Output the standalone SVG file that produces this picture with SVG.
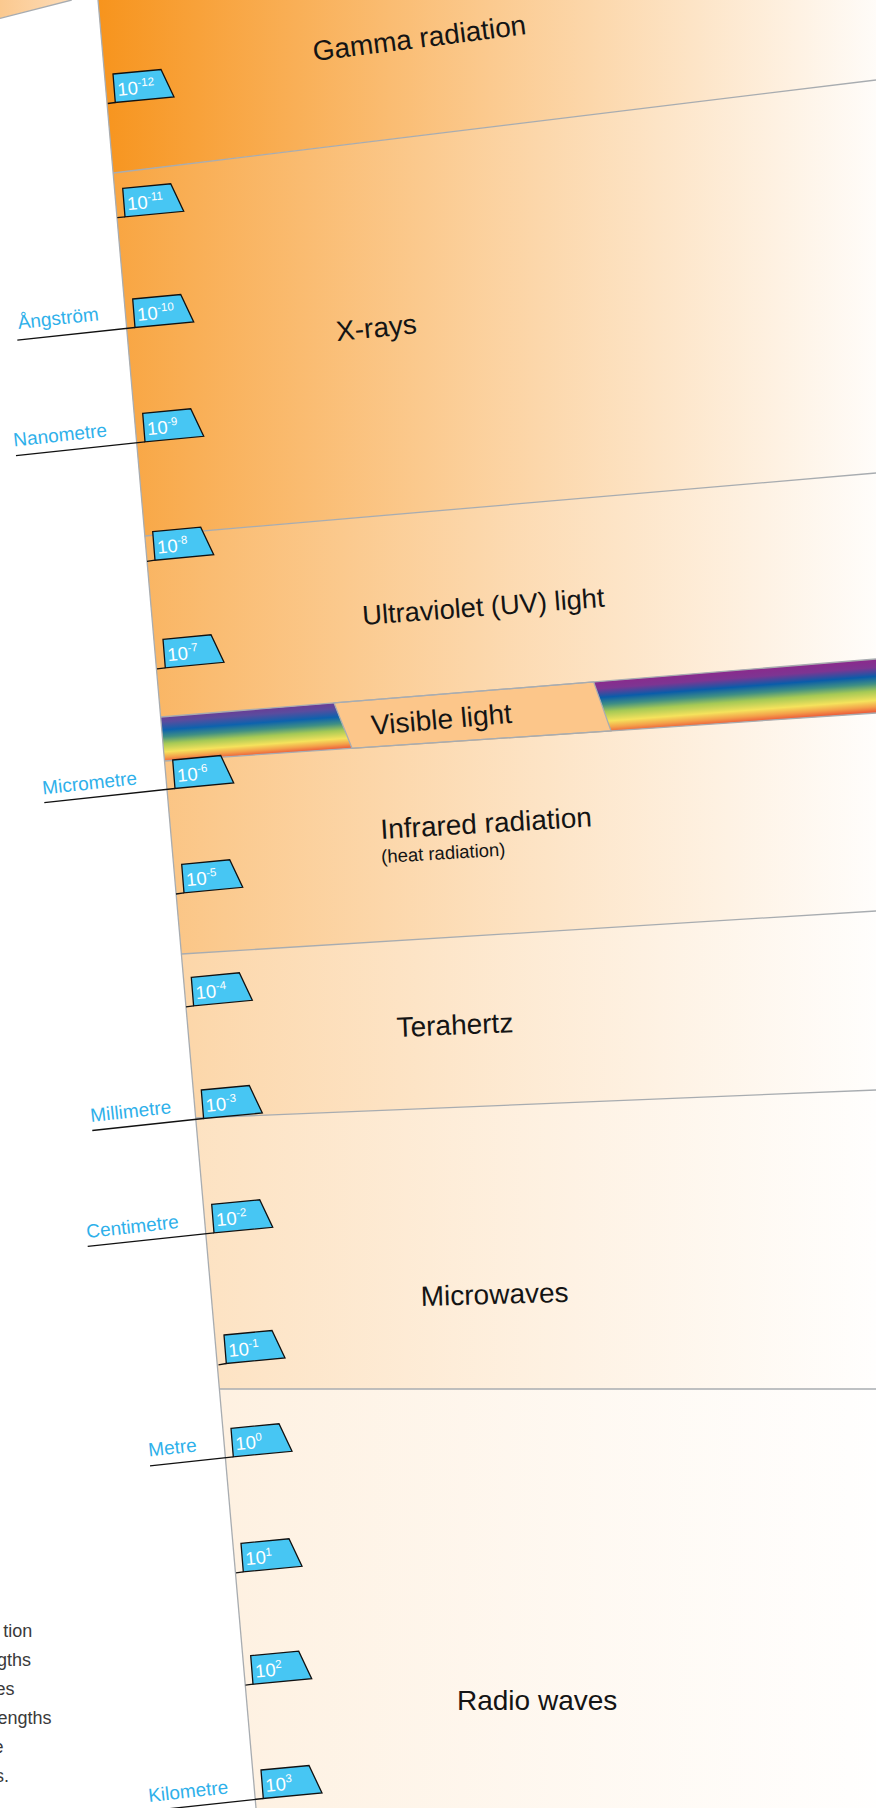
<svg xmlns="http://www.w3.org/2000/svg" width="876" height="1808" viewBox="0 0 876 1808">
<defs>
<linearGradient id="fade" x1="0" y1="0" x2="1" y2="0">
<stop offset="0" stop-color="#f7941d" stop-opacity="1"/>
<stop offset="0.5" stop-color="#f7941d" stop-opacity="0.5"/>
<stop offset="1" stop-color="#f7941d" stop-opacity="0.03"/>
</linearGradient>
<linearGradient id="sliver" x1="0" y1="0" x2="1" y2="0">
<stop offset="0" stop-color="#fbc98f"/>
<stop offset="1" stop-color="#fddcb8"/>
</linearGradient>
<linearGradient id="rainL" gradientUnits="userSpaceOnUse" x1="255" y1="709.4" x2="258.4" y2="754.9">
<stop offset="0" stop-color="#6b3d96"/>
<stop offset="0.12" stop-color="#5a4c9e"/>
<stop offset="0.3" stop-color="#0d62ad"/>
<stop offset="0.45" stop-color="#3f8f84"/>
<stop offset="0.6" stop-color="#a5c955"/>
<stop offset="0.78" stop-color="#f5e25c"/>
<stop offset="0.9" stop-color="#f4a04a"/>
<stop offset="1" stop-color="#ec5b3a"/>
</linearGradient>
<linearGradient id="rainR" gradientUnits="userSpaceOnUse" x1="735" y1="670.4" x2="739" y2="722.5">
<stop offset="0" stop-color="#8b2a8c"/>
<stop offset="0.15" stop-color="#7d3592"/>
<stop offset="0.32" stop-color="#0a5ca9"/>
<stop offset="0.46" stop-color="#3f8f84"/>
<stop offset="0.6" stop-color="#a5c955"/>
<stop offset="0.78" stop-color="#f5e25c"/>
<stop offset="0.9" stop-color="#f4a04a"/>
<stop offset="1" stop-color="#ec5b3a"/>
</linearGradient>
</defs>
<style>
.band{fill:url(#fade)}
.bnd{stroke:#a8acb0;stroke-width:1.3;fill:none}
.tag path{fill:#47c6f3;stroke:#111;stroke-width:1.3;stroke-linejoin:miter}
.tag text{font-family:"Liberation Sans",Arial,sans-serif;font-size:18.5px;fill:#fff}
.tag tspan{font-size:11.5px}
.tick{stroke:#111;stroke-width:1.3;fill:none}
.lbl{font-family:"Liberation Sans",Arial,sans-serif;font-size:28px;fill:#141414}
.sub{font-family:"Liberation Sans",Arial,sans-serif;font-size:18.5px;fill:#141414}
.unit{font-family:"Liberation Sans",Arial,sans-serif;font-size:19px;fill:#2eb0ea}
.para{font-family:"Liberation Sans",Arial,sans-serif;font-size:18px;fill:#3a3a3a;text-anchor:end}
</style>
<rect x="0" y="0" width="876" height="1808" fill="#ffffff"/>
<g id="prev-panel">
<polygon points="0,0 71.7,0 0,18.3" fill="url(#sliver)"/>
<line x1="0" y1="18.3" x2="71.7" y2="0" class="bnd"/>
</g>
<g id="band-gamma"><polygon class="band" points="98,0 876,0 876,80 113.1,173"/>
<text class="lbl" transform="translate(314,61) rotate(-7.2)">Gamma radiation</text></g>
<g id="band-xray"><polygon class="band" fill-opacity="0.84" points="113.1,173 876,80 876,473 144.8,536"/>
<text class="lbl" transform="translate(337,341) rotate(-5.5)">X-rays</text></g>
<g id="band-uv"><polygon class="band" fill-opacity="0.69" points="144.8,536 876,473 876,659 160.7,717"/>
<text class="lbl" style="font-size:27.3px" transform="translate(363,625) rotate(-4.3)">Ultraviolet (UV) light</text></g>
<g id="band-visible">
<polygon points="160.7,717 334,702.9 352,748.3 164.5,761" fill="url(#rainL)"/>
<polygon points="593.6,681.9 876,659 876,713 611,730.9" fill="url(#rainR)"/>
<polygon points="334,702.9 593.6,681.9 611,730.9 352,748.3" fill="#fcc68a" stroke="#a8acb0" stroke-width="1.3"/>
<text class="lbl" transform="translate(372,735) rotate(-5)">Visible light</text></g>
<g id="band-ir"><polygon class="band" fill-opacity="0.54" points="164.5,761 876,713 876,911 181.4,954"/>
<text class="lbl" transform="translate(381,839) rotate(-3.4)">Infrared radiation</text>
<text class="sub" transform="translate(381.5,863) rotate(-3.4)">(heat radiation)</text></g>
<g id="band-thz"><polygon class="band" fill-opacity="0.38" points="181.4,954 876,911 876,1090 195.7,1118"/>
<text class="lbl" transform="translate(397,1037) rotate(-2.4)">Terahertz</text></g>
<g id="band-micro"><polygon class="band" fill-opacity="0.27" points="195.7,1118 876,1090 876,1389 219.4,1389"/>
<text class="lbl" transform="translate(421,1306) rotate(-1.6)">Microwaves</text></g>
<g id="band-radio"><polygon class="band" fill-opacity="0.135" points="219.4,1389 876,1389 876,1808 256,1808"/>
<text class="lbl" x="457" y="1710">Radio waves</text></g>
<g id="boundaries">
<line class="bnd" x1="98" y1="0" x2="256" y2="1808"/>
<line class="bnd" x1="113.1" y1="173" x2="876" y2="80"/>
<line class="bnd" x1="144.8" y1="536" x2="876" y2="473"/>
<line class="bnd" x1="160.7" y1="717" x2="876" y2="659"/>
<line class="bnd" x1="164.5" y1="761" x2="876" y2="713"/>
<line class="bnd" x1="181.4" y1="954" x2="876" y2="911"/>
<line class="bnd" x1="195.7" y1="1118" x2="876" y2="1090"/>
<line class="bnd" x1="219.4" y1="1389" x2="876" y2="1389"/>
</g>
<g id="connectors">
<line class="tick" x1="115.3" y1="102.5" x2="107.8" y2="103.5"/>
<line class="tick" x1="125" y1="216.8" x2="117.3" y2="217.6"/>
<line class="tick" x1="135" y1="327.5" x2="17.3" y2="340.2"/>
<line class="tick" x1="145" y1="441.8" x2="16" y2="455.7"/>
<line class="tick" x1="155" y1="560.2" x2="147" y2="561.3"/>
<line class="tick" x1="165.3" y1="667.8" x2="157" y2="668.8"/>
<line class="tick" x1="175" y1="788.5" x2="44.3" y2="802.6"/>
<line class="tick" x1="184" y1="892.8" x2="176" y2="894"/>
<line class="tick" x1="193.6" y1="1005.8" x2="186" y2="1006.8"/>
<line class="tick" x1="203.6" y1="1118.5" x2="92.3" y2="1130.5"/>
<line class="tick" x1="214" y1="1232.8" x2="87.7" y2="1246.4"/>
<line class="tick" x1="226.3" y1="1363.5" x2="218.5" y2="1364.8"/>
<line class="tick" x1="233.3" y1="1456.8" x2="150" y2="1465.8"/>
<line class="tick" x1="243.3" y1="1571.8" x2="236" y2="1572.8"/>
<line class="tick" x1="253" y1="1684.2" x2="245.5" y2="1685.2"/>
<line class="tick" x1="263.3" y1="1798.5" x2="148" y2="1811"/>
</g>
<g id="tags">
<g class="tag" id="t-12" transform="translate(113,74)"><path d="M0,0 L48,-4.5 L61,23 L2.3,28.5 Z"/><text transform="translate(5,22) rotate(-5.4)">10<tspan dy="-7.5">-12</tspan></text></g>
<g class="tag" id="t-11" transform="translate(122.7,188.3)"><path d="M0,0 L48,-4.5 L61,23 L2.3,28.5 Z"/><text transform="translate(5,22) rotate(-5.4)">10<tspan dy="-7.5">-11</tspan></text></g>
<g class="tag" id="t-10" transform="translate(132.7,299)"><path d="M0,0 L48,-4.5 L61,23 L2.3,28.5 Z"/><text transform="translate(5,22) rotate(-5.4)">10<tspan dy="-7.5">-10</tspan></text></g>
<g class="tag" id="t-9" transform="translate(142.7,413.3)"><path d="M0,0 L48,-4.5 L61,23 L2.3,28.5 Z"/><text transform="translate(5,22) rotate(-5.4)">10<tspan dy="-7.5">-9</tspan></text></g>
<g class="tag" id="t-8" transform="translate(152.7,531.7)"><path d="M0,0 L48,-4.5 L61,23 L2.3,28.5 Z"/><text transform="translate(5,22) rotate(-5.4)">10<tspan dy="-7.5">-8</tspan></text></g>
<g class="tag" id="t-7" transform="translate(163,639.3)"><path d="M0,0 L48,-4.5 L61,23 L2.3,28.5 Z"/><text transform="translate(5,22) rotate(-5.4)">10<tspan dy="-7.5">-7</tspan></text></g>
<g class="tag" id="t-6" transform="translate(172.7,760)"><path d="M0,0 L48,-4.5 L61,23 L2.3,28.5 Z"/><text transform="translate(5,22) rotate(-5.4)">10<tspan dy="-7.5">-6</tspan></text></g>
<g class="tag" id="t-5" transform="translate(181.7,864.3)"><path d="M0,0 L48,-4.5 L61,23 L2.3,28.5 Z"/><text transform="translate(5,22) rotate(-5.4)">10<tspan dy="-7.5">-5</tspan></text></g>
<g class="tag" id="t-4" transform="translate(191.3,977.3)"><path d="M0,0 L48,-4.5 L61,23 L2.3,28.5 Z"/><text transform="translate(5,22) rotate(-5.4)">10<tspan dy="-7.5">-4</tspan></text></g>
<g class="tag" id="t-3" transform="translate(201.3,1090)"><path d="M0,0 L48,-4.5 L61,23 L2.3,28.5 Z"/><text transform="translate(5,22) rotate(-5.4)">10<tspan dy="-7.5">-3</tspan></text></g>
<g class="tag" id="t-2" transform="translate(211.7,1204.3)"><path d="M0,0 L48,-4.5 L61,23 L2.3,28.5 Z"/><text transform="translate(5,22) rotate(-5.4)">10<tspan dy="-7.5">-2</tspan></text></g>
<g class="tag" id="t-1" transform="translate(224,1335)"><path d="M0,0 L48,-4.5 L61,23 L2.3,28.5 Z"/><text transform="translate(5,22) rotate(-5.4)">10<tspan dy="-7.5">-1</tspan></text></g>
<g class="tag" id="t0" transform="translate(231,1428.3)"><path d="M0,0 L48,-4.5 L61,23 L2.3,28.5 Z"/><text transform="translate(5,22) rotate(-5.4)">10<tspan dy="-7.5">0</tspan></text></g>
<g class="tag" id="t1" transform="translate(241,1543.3)"><path d="M0,0 L48,-4.5 L61,23 L2.3,28.5 Z"/><text transform="translate(5,22) rotate(-5.4)">10<tspan dy="-7.5">1</tspan></text></g>
<g class="tag" id="t2" transform="translate(250.7,1655.7)"><path d="M0,0 L48,-4.5 L61,23 L2.3,28.5 Z"/><text transform="translate(5,22) rotate(-5.4)">10<tspan dy="-7.5">2</tspan></text></g>
<g class="tag" id="t3" transform="translate(261,1770)"><path d="M0,0 L48,-4.5 L61,23 L2.3,28.5 Z"/><text transform="translate(5,22) rotate(-5.4)">10<tspan dy="-7.5">3</tspan></text></g>
</g>
<g id="units">
<text class="unit" transform="translate(18.5,329) rotate(-6.2)">Ångström</text>
<text class="unit" transform="translate(14,446.5) rotate(-6.2)">Nanometre</text>
<text class="unit" transform="translate(43,794.5) rotate(-6.2)">Micrometre</text>
<text class="unit" transform="translate(91,1122) rotate(-6.2)">Millimetre</text>
<text class="unit" transform="translate(87,1238) rotate(-6.2)">Centimetre</text>
<text class="unit" transform="translate(149,1456.5) rotate(-6.2)">Metre</text>
<text class="unit" transform="translate(149,1802) rotate(-6.2)">Kilometre</text>
</g>
<g id="paragraph">
<text class="para" x="32.3" y="1636.5">tion</text>
<text class="para" x="31" y="1665.5">gths</text>
<text class="para" x="14.5" y="1694.5">es</text>
<text class="para" x="51.5" y="1723.5">engths</text>
<text class="para" x="3.5" y="1752.5">e</text>
<text class="para" x="9" y="1781.5">s.</text>
</g>
</svg>
